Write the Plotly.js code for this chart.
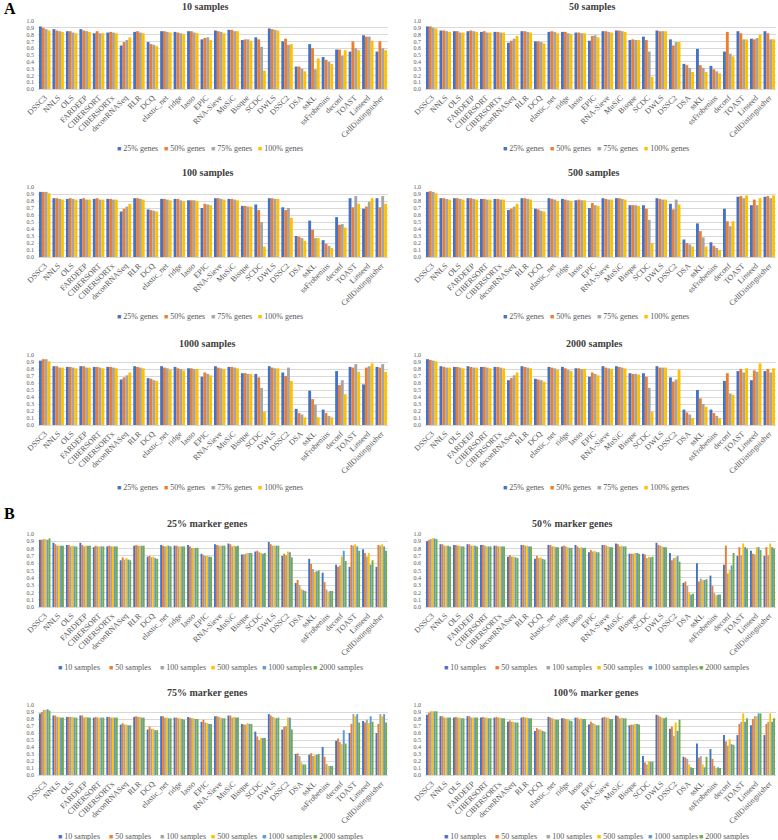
<!DOCTYPE html>
<html>
<head>
<meta charset="utf-8">
<script src="https://cdn.plot.ly/plotly-3.0.1.min.js"></script>
<style>
html, body { margin: 0; padding: 0; background: #ffffff; }
#chart { width: 778px; height: 840px; }
</style>
</head>
<body>
<div id="chart"></div>
<script>
// ---------- categories ----------
const methods = ["DSSC3","NNLS","OLS","FARDEEP","CIBERSORT","CIBERSORTx","deconRNASeq","RLR","DCQ","elastic_net","ridge","lasso","EPIC","RNA-Sieve","MuSiC","Bisque","SCDC","DWLS","DSSC2","DSA","ssKL","ssFrobenius","deconf","TOAST","Linseed","CellDistinguisher"];
const sampleSizes = ["10","50","100","500","1000","2000"];
const genePcts = ["25%","50%","75%","100%"];

// ---------- values (accuracy) per sample size and % marker genes ----------
const s10_25  = [0.92,0.88,0.85,0.88,0.82,0.83,0.64,0.84,0.69,0.85,0.84,0.85,0.73,0.86,0.87,0.72,0.76,0.89,0.70,0.33,0.66,0.47,0.58,0.55,0.79,0.55];
const s10_50  = [0.90,0.86,0.85,0.86,0.85,0.84,0.69,0.85,0.66,0.85,0.83,0.85,0.75,0.85,0.87,0.73,0.73,0.88,0.74,0.33,0.60,0.43,0.58,0.70,0.77,0.70];
const s10_75  = [0.88,0.85,0.83,0.85,0.82,0.83,0.72,0.83,0.65,0.84,0.82,0.83,0.76,0.84,0.85,0.73,0.62,0.87,0.65,0.30,0.29,0.40,0.49,0.60,0.77,0.60];
const s10_100 = [0.86,0.84,0.82,0.84,0.82,0.82,0.76,0.82,0.63,0.83,0.81,0.82,0.72,0.82,0.85,0.71,0.27,0.86,0.66,0.26,0.45,0.37,0.57,0.57,0.71,0.57];

const s50_25  = [0.92,0.86,0.85,0.85,0.84,0.84,0.68,0.85,0.70,0.84,0.84,0.83,0.71,0.85,0.86,0.72,0.77,0.86,0.73,0.37,0.59,0.34,0.55,0.85,0.74,0.85];
const s50_50  = [0.92,0.86,0.85,0.86,0.85,0.84,0.71,0.85,0.70,0.85,0.84,0.83,0.78,0.85,0.86,0.73,0.72,0.85,0.64,0.35,0.35,0.29,0.84,0.82,0.73,0.82];
const s50_75  = [0.90,0.85,0.83,0.85,0.83,0.83,0.74,0.84,0.69,0.84,0.82,0.82,0.79,0.84,0.85,0.72,0.55,0.85,0.69,0.31,0.31,0.26,0.52,0.73,0.75,0.73];
const s50_100 = [0.89,0.84,0.83,0.84,0.83,0.83,0.78,0.83,0.67,0.82,0.81,0.82,0.76,0.83,0.84,0.72,0.18,0.85,0.69,0.25,0.25,0.23,0.48,0.73,0.80,0.73];

const s100_25  = [0.93,0.84,0.83,0.83,0.83,0.83,0.65,0.84,0.68,0.83,0.83,0.81,0.70,0.84,0.83,0.73,0.75,0.84,0.71,0.30,0.52,0.24,0.57,0.84,0.69,0.84];
const s100_50  = [0.93,0.84,0.84,0.84,0.84,0.83,0.69,0.84,0.67,0.83,0.83,0.81,0.76,0.84,0.83,0.73,0.67,0.84,0.67,0.29,0.39,0.19,0.46,0.71,0.72,0.71];
const s100_75  = [0.93,0.83,0.83,0.82,0.82,0.82,0.72,0.83,0.66,0.82,0.81,0.81,0.75,0.83,0.82,0.72,0.50,0.83,0.70,0.27,0.27,0.16,0.47,0.87,0.79,0.87];
const s100_100 = [0.91,0.82,0.82,0.82,0.82,0.82,0.76,0.82,0.65,0.81,0.80,0.80,0.74,0.82,0.81,0.72,0.15,0.83,0.56,0.23,0.27,0.13,0.42,0.76,0.84,0.76];

const s500_25  = [0.93,0.84,0.84,0.84,0.83,0.83,0.67,0.84,0.69,0.84,0.83,0.81,0.70,0.84,0.84,0.74,0.74,0.84,0.76,0.25,0.48,0.21,0.69,0.86,0.74,0.86];
const s500_50  = [0.94,0.84,0.84,0.84,0.83,0.83,0.69,0.84,0.68,0.83,0.82,0.82,0.77,0.83,0.84,0.74,0.69,0.83,0.68,0.20,0.37,0.16,0.51,0.87,0.82,0.87];
const s500_75  = [0.93,0.83,0.83,0.83,0.82,0.82,0.72,0.83,0.66,0.82,0.81,0.81,0.74,0.82,0.83,0.74,0.53,0.82,0.82,0.18,0.28,0.13,0.44,0.84,0.74,0.84];
const s500_100 = [0.91,0.82,0.82,0.82,0.82,0.82,0.76,0.82,0.65,0.80,0.80,0.81,0.73,0.82,0.82,0.73,0.20,0.82,0.75,0.15,0.15,0.10,0.51,0.88,0.84,0.88];

const s1000_25  = [0.92,0.84,0.83,0.84,0.83,0.83,0.65,0.84,0.67,0.84,0.83,0.81,0.69,0.84,0.83,0.74,0.73,0.84,0.75,0.23,0.49,0.22,0.77,0.83,0.58,0.83];
const s1000_50  = [0.94,0.84,0.83,0.84,0.83,0.83,0.68,0.83,0.66,0.82,0.81,0.81,0.75,0.82,0.83,0.74,0.68,0.82,0.70,0.17,0.37,0.17,0.57,0.82,0.82,0.82];
const s1000_75  = [0.94,0.82,0.82,0.82,0.82,0.82,0.71,0.82,0.64,0.81,0.80,0.80,0.73,0.81,0.82,0.73,0.53,0.81,0.82,0.15,0.29,0.13,0.64,0.87,0.84,0.87];
const s1000_100 = [0.91,0.82,0.81,0.82,0.81,0.81,0.75,0.81,0.63,0.79,0.78,0.80,0.71,0.80,0.81,0.73,0.19,0.81,0.63,0.11,0.11,0.11,0.44,0.76,0.88,0.76];

const s2000_25  = [0.94,0.84,0.83,0.84,0.83,0.83,0.64,0.84,0.66,0.83,0.83,0.81,0.69,0.84,0.84,0.74,0.74,0.84,0.68,0.22,0.50,0.22,0.63,0.77,0.64,0.77];
const s2000_50  = [0.93,0.83,0.83,0.83,0.83,0.83,0.67,0.83,0.65,0.82,0.81,0.81,0.75,0.82,0.83,0.73,0.69,0.82,0.62,0.18,0.38,0.17,0.74,0.80,0.78,0.80];
const s2000_75  = [0.92,0.82,0.82,0.82,0.82,0.82,0.71,0.82,0.64,0.81,0.79,0.80,0.73,0.81,0.82,0.73,0.53,0.82,0.65,0.15,0.30,0.13,0.45,0.75,0.76,0.75];
const s2000_100 = [0.91,0.82,0.81,0.82,0.81,0.81,0.75,0.81,0.62,0.79,0.77,0.80,0.71,0.80,0.81,0.72,0.19,0.82,0.79,0.10,0.26,0.10,0.43,0.81,0.88,0.81];

// table built from the named arrays: [sample size][gene pct]
const table = [
  [s10_25, s10_50, s10_75, s10_100],
  [s50_25, s50_50, s50_75, s50_100],
  [s100_25, s100_50, s100_75, s100_100],
  [s500_25, s500_50, s500_75, s500_100],
  [s1000_25, s1000_50, s1000_75, s1000_100],
  [s2000_25, s2000_50, s2000_75, s2000_100]
];

// ---------- styling ----------
const colors = ["#4472C4","#ED7D31","#A5A5A5","#FFC000","#5B9BD5","#70AD47"];
const FONT = "Liberation Serif, Times New Roman, serif";
const W = 778, H = 840;
const px = v => v / W;
const py = v => 1 - v / H;

const colX = [[38, 388], [425, 776]];
const rowsA = [[21, 89], [187, 257], [355, 425]];
const rowsB = [[534, 607], [705, 775]];
const titleYA = [7, 173, 343], titleYB = [523, 692];
const legYA = [148, 316, 487], legYB = [667, 836];

const traces = [];
const layout = {
  width: W, height: H,
  margin: {l: 0, r: 0, t: 0, b: 0},
  paper_bgcolor: "#ffffff", plot_bgcolor: "#ffffff",
  barmode: "group", bargap: 0.15, bargroupgap: 0,
  showlegend: false,
  font: {family: FONT, size: 8, color: "#595959"},
  annotations: []
};

function addAxes(k, col, row) {
  const xs = k === 1 ? "xaxis" : "xaxis" + k;
  const ys = k === 1 ? "yaxis" : "yaxis" + k;
  layout[xs] = {
    domain: [px(colX[col][0]), px(colX[col][1])],
    anchor: "y" + (k === 1 ? "" : k),
    type: "category",
    tickangle: -45,
    tickfont: {family: FONT, size: 8, color: "#595959"},
    showgrid: false, showline: true, linecolor: "#D9D9D9", linewidth: 1,
    ticks: "", automargin: false, fixedrange: true
  };
  layout[ys] = {
    domain: [py(row[1]), py(row[0])],
    anchor: "x" + (k === 1 ? "" : k),
    range: [0, 1.0], dtick: 0.1, tick0: 0, tickformat: ".1f",
    tickfont: {family: FONT, size: 6, color: "#595959"},
    ticklabelstandoff: 3,
    showgrid: true, gridcolor: "#D9D9D9", gridwidth: 1,
    zeroline: false, showline: false, ticks: "", automargin: false, fixedrange: true
  };
}

function addLegend(names, cols, cx, cy, step) {
  const start = cx - step * names.length / 2;
  names.forEach((n, i) => {
    layout.annotations.push({
      xref: "paper", yref: "paper",
      x: px(start + i * step), y: py(cy),
      xanchor: "left", yanchor: "middle", showarrow: false,
      text: '<span style="color:' + cols[i] + ';font-size:7px">■</span> ' + n,
      font: {family: FONT, size: 8, color: "#595959"}
    });
  });
}

function addTitle(text, cx, cy) {
  layout.annotations.push({
    xref: "paper", yref: "paper", x: px(cx), y: py(cy),
    xanchor: "center", yanchor: "middle", showarrow: false,
    text: "<b>" + text + "</b>",
    font: {family: FONT, size: 10, color: "#404040"}
  });
}

let k = 0;
// ----- Panel A: one subplot per sample size, series = % genes -----
const titleXA = [[205, 592], [208, 594], [207, 594]];
sampleSizes.forEach((s, i) => {
  k += 1;
  const col = i % 2, r = Math.floor(i / 2);
  addAxes(k, col, rowsA[r]);
  genePcts.forEach((g, j) => {
    traces.push({
      type: "bar", x: methods, y: table[i][j], name: g + " genes",
      marker: {color: colors[j], line: {width: 0}},
      xaxis: "x" + (k === 1 ? "" : k), yaxis: "y" + (k === 1 ? "" : k),
      hoverinfo: "skip"
    });
  });
  addTitle(s + " samples", titleXA[r][col], titleYA[r]);
  addLegend(genePcts.map(g => g + " genes"), colors, col === 0 ? 209 : 595, legYA[r], 47);
});

// ----- Panel B: one subplot per % marker genes, series = sample sizes -----
const titleXB = [[207, 572], [207, 595]];
genePcts.forEach((g, j) => {
  k += 1;
  const col = j % 2, r = Math.floor(j / 2);
  addAxes(k, col, rowsB[r]);
  sampleSizes.forEach((s, i) => {
    traces.push({
      type: "bar", x: methods, y: table[i][j], name: s + " samples",
      marker: {color: colors[i], line: {width: 0}},
      xaxis: "x" + k, yaxis: "y" + k,
      hoverinfo: "skip"
    });
  });
  addTitle(g + " marker genes", titleXB[r][col], titleYB[r]);
  addLegend(sampleSizes.map(s => s + " samples"), colors, col === 0 ? 209 : 595, legYB[r], 51);
});

// panel letters
[["A", 9], ["B", 513]].forEach(([t, y]) => {
  layout.annotations.push({
    xref: "paper", yref: "paper", x: px(2), y: py(y),
    xanchor: "left", yanchor: "middle", showarrow: false,
    text: "<b>" + t + "</b>",
    font: {family: FONT, size: 16, color: "#000000"}
  });
});

Plotly.newPlot("chart", traces, layout, {displayModeBar: false, staticPlot: true});
</script>
</body>
</html>
